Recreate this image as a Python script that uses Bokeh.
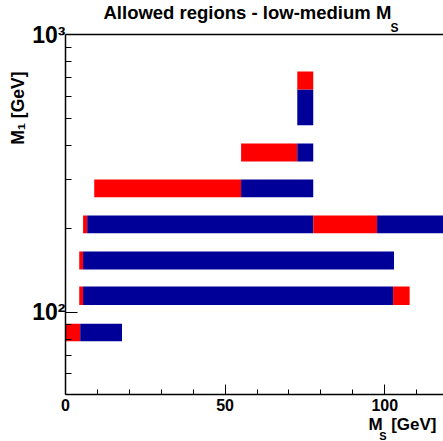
from bokeh.plotting import figure
from bokeh.models import FixedTicker, LinearAxis, Title, ColumnDataSource, Range1d
from bokeh.embed import file_html
from bokeh.resources import INLINE

# ---- data: allowed-region segments ----
seg_m1_low = [78.6, 78.6, 106.0, 106.0, 106.0, 142.5, 142.5, 192.5, 192.5, 192.5, 192.5,
              259.5, 259.5, 349.0, 349.0, 471.4, 634.0]
seg_m1_high = [90.8, 90.8, 123.7, 123.7, 123.7, 165.4, 165.4, 222.9, 222.9, 222.9, 222.9,
               300.6, 300.6, 405.1, 405.1, 634.0, 736.0]
seg_ms_start = [0.0, 4.6, 4.3, 5.5, 102.6, 4.3, 5.5, 5.5, 6.8, 77.6, 97.6,
                9.0, 55.0, 55.0, 72.6, 72.6, 72.6]
seg_ms_end = [4.6, 17.7, 5.5, 102.6, 107.8, 5.5, 102.9, 6.8, 77.6, 97.6, 125.0,
              55.0, 77.6, 72.6, 77.6, 77.6, 77.6]
seg_type = ["red", "blue", "red", "blue", "red", "red", "blue", "red", "blue", "red", "blue",
            "red", "blue", "red", "blue", "blue", "red"]

x_ticks = [0, 50, 100]
x_minor = [10, 20, 30, 40, 60, 70, 80, 90, 110]
y_ticks = [100, 1000]
y_tick_labels = ["10\u00b2", "10\u00b3"]
y_minor = [60, 70, 80, 90, 200, 300, 400, 500, 600, 700, 800, 900]

title_main = "Allowed regions - low-medium M"
title_sub = "S"
x_label_main = "M\u2002[GeV]"
x_label_sub = "S"
y_label = "M\u2081 [GeV]"

palette = {"red": "#ff0000", "blue": "#000099"}

W, H = 443, 441
FL, FB, FT = 65, 394, 34  # frame left / bottom / top in page pixels
FONT = "Liberation Sans"

p = figure(width=W, height=H, output_backend="svg", toolbar_location=None,
           x_range=Range1d(0, 118.4), y_range=Range1d(50.5, 1000.5), y_axis_type="log",
           min_border_left=FL, min_border_right=0, min_border_top=FT, min_border_bottom=H - FB)
p.title = None
p.outline_line_color = None
p.xgrid.visible = False
p.ygrid.visible = False

src = ColumnDataSource(dict(left=seg_ms_start, right=seg_ms_end, bottom=seg_m1_low,
                            top=seg_m1_high, color=[palette[t] for t in seg_type]))
p.quad(left="left", right="right", bottom="bottom", top="top", fill_color="color",
       line_color=None, source=src)

# x axis
xa = p.xaxis[0]
xa.ticker = FixedTicker(ticks=x_ticks, minor_ticks=x_minor)
xa.major_tick_in = 10
xa.major_tick_out = 0
xa.minor_tick_in = 5
xa.minor_tick_out = 0
xa.axis_line_width = 1.5
xa.major_label_text_font = FONT
xa.major_label_text_font_style = "bold"
xa.major_label_text_font_size = "16px"
xa.major_label_text_color = "black"
xa.major_label_standoff = 4

# y axis
ya = p.yaxis[0]
ya.ticker = FixedTicker(ticks=y_ticks, minor_ticks=y_minor)
ya.major_label_overrides = {float(v): s for v, s in zip(y_ticks, y_tick_labels)}
ya.major_tick_in = 12
ya.major_tick_out = 0
ya.minor_tick_in = 6
ya.minor_tick_out = 0
ya.axis_line_width = 1.5
ya.major_label_text_font = FONT
ya.major_label_text_font_style = "bold"
ya.major_label_text_font_size = "23px"
ya.major_label_text_color = "black"
ya.major_label_standoff = 0

# top frame line
top = LinearAxis(ticker=FixedTicker(ticks=[], minor_ticks=[]),
                 major_tick_line_color=None, minor_tick_line_color=None,
                 axis_line_width=1.5, major_tick_in=0, major_tick_out=0,
                 minor_tick_in=0, minor_tick_out=0, major_label_standoff=0)
p.add_layout(top, "above")


def title(text, size, side, align, offset, standoff):
    t = Title(text=text, text_font=FONT, text_font_style="bold", text_font_size=size,
              text_color="black", align=align, offset=offset, standoff=standoff)
    p.add_layout(t, side)


# title (subscript row sits closest to the frame)
title(title_sub, "12px", "above", "left", 325, 0)
title(title_main, "18.5px", "above", "left", 38, -8)
# x axis label
title(x_label_main, "17px", "below", "right", 7, -2)
title(x_label_sub, "11px", "below", "right", 57, -10)
# y axis label
title(y_label, "17.5px", "left", "right", 37, 3)

open("out.html", "w").write(file_html(p, INLINE))
